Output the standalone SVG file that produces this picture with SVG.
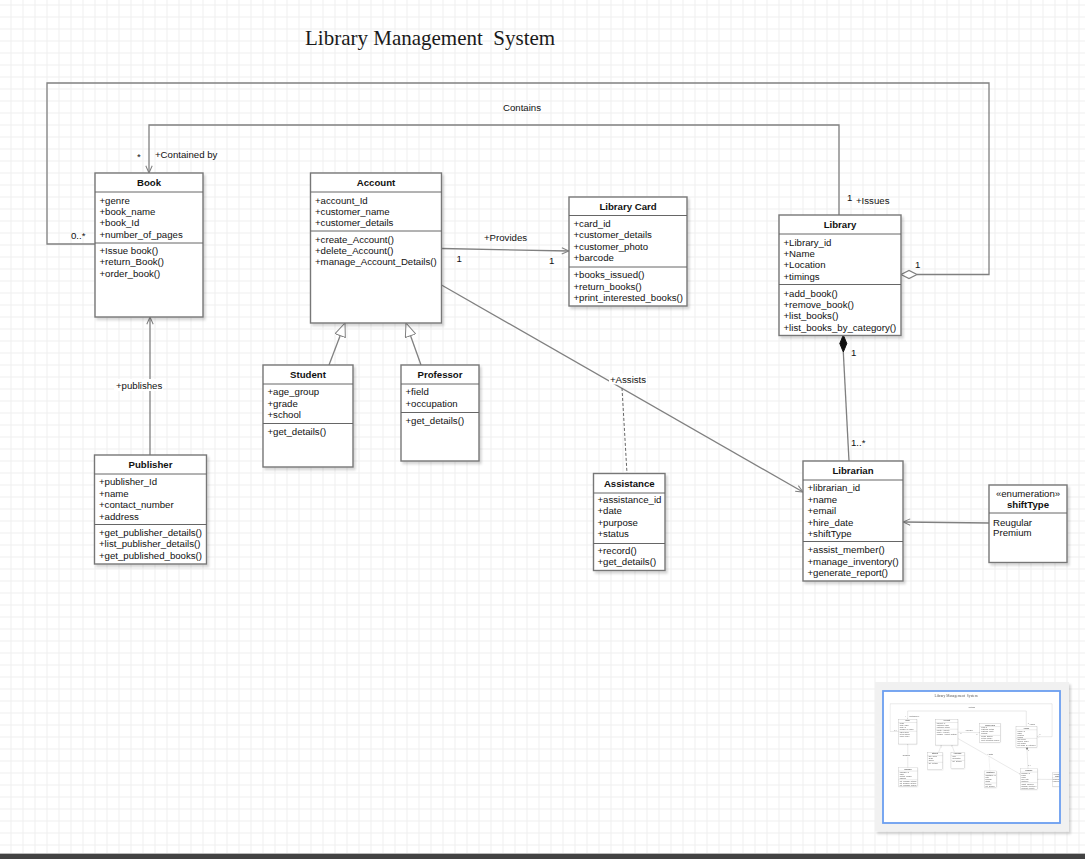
<svg xmlns="http://www.w3.org/2000/svg" xmlns:xlink="http://www.w3.org/1999/xlink" width="1085" height="859" viewBox="0 0 1085 859">
<defs>
<style>
.bg{fill:#ffffff}
.frame{fill:#ffffff;stroke:#777777;stroke-width:1.4}
.div{stroke:#666666;stroke-width:1}
.t{font-family:"Liberation Sans",Arial,sans-serif;font-size:9.65px;fill:#111111}
.h{font-family:"Liberation Sans",Arial,sans-serif;font-size:9.65px;font-weight:bold;fill:#111111;text-anchor:middle}
.lbl{font-family:"Liberation Sans",Arial,sans-serif;font-size:9.65px;fill:#111111}
.title{font-family:"Liberation Serif","Times New Roman",serif;font-size:21px;fill:#1a1a1a;white-space:pre}
.c{fill:none;stroke:#808080;stroke-width:1.3}
.dash{fill:none;stroke:#666666;stroke-width:1;stroke-dasharray:3 2}
</style>
<pattern id="grid" patternUnits="userSpaceOnUse" x="10.5" y="4.5" width="12" height="12">
<path d="M0.5 0 V12 M0 0.5 H12" stroke="#efefef" stroke-width="1" fill="none"/>
</pattern>
<filter id="sh" x="-10%" y="-10%" width="130%" height="130%">
<feDropShadow dx="2" dy="2.5" stdDeviation="1.2" flood-color="#000000" flood-opacity="0.16"/>
</filter>
<marker id="open" viewBox="0 0 10 10" refX="10" refY="5" markerWidth="8" markerHeight="8" markerUnits="userSpaceOnUse" orient="auto">
<path d="M1 1 L10 5 L1 9" fill="none" stroke="#808080" stroke-width="1.3"/>
</marker>
<marker id="tri" viewBox="0 0 14 12" refX="14" refY="6" markerWidth="14" markerHeight="12" markerUnits="userSpaceOnUse" orient="auto">
<path d="M0.5 0.5 L14 6 L0.5 11.5 Z" fill="#ffffff" stroke="#808080" stroke-width="1"/>
</marker>
<clipPath id="mini">
<rect x="883" y="691" width="177" height="132"/>
</clipPath>
</defs>

<rect class="bg" x="0" y="0" width="1085" height="859"/>
<rect x="0" y="0" width="1085" height="859" fill="url(#grid)"/>

<g id="content">
<text class="title" x="305" y="45">Library Management  System</text>

<g id="connectors">
<!-- Contains (aggregation Library -> Book) -->
<path class="c" d="M917 274.5 H989 V83 H47 V244 H95"/>
<polygon points="901,274.5 909,270.5 917,274.5 909,278.5" fill="#ffffff" stroke="#808080" stroke-width="1.2"/>
<text class="lbl" x="522" y="110.5" text-anchor="middle">Contains</text>
<text class="lbl" x="71" y="238.5">0..*</text>
<text class="lbl" x="915" y="267.5">1</text>
<!-- Issues / Contained by -->
<path class="c" d="M839 215 V125 H149 V173" marker-end="url(#open)"/>
<text class="lbl" x="137" y="160">*</text>
<text class="lbl" x="155" y="157.5">+Contained by</text>
<text class="lbl" x="847" y="201">1</text>
<text class="lbl" x="856" y="204">+Issues</text>
<!-- Provides -->
<path class="c" d="M441.5 248.5 L569 251" marker-end="url(#open)"/>
<text class="lbl" x="484" y="241">+Provides</text>
<text class="lbl" x="456.5" y="261.5">1</text>
<text class="lbl" x="549" y="263.5">1</text>
<!-- Assists -->
<path class="c" d="M441.5 285 L803 492" marker-end="url(#open)"/>
<path class="dash" d="M622 388 L627 473.5"/>
<rect x="609" y="373.5" width="38" height="11" fill="#ffffff"/>
<text class="lbl" x="610" y="382.5">+Assists</text>
<!-- Generalizations -->
<path class="c" d="M329 365 L345 323" marker-end="url(#tri)"/>
<path class="c" d="M421 365 L406 323" marker-end="url(#tri)"/>
<!-- publishes -->
<path class="c" d="M150 455 V317" marker-end="url(#open)"/>
<rect x="114" y="379" width="49" height="12" fill="#ffffff"/>
<text class="lbl" x="116" y="388.5">+publishes</text>
<!-- Composition Library -> Librarian -->
<path class="c" d="M843.3 352 L849 461"/>
<polygon points="843.3,335 846.8,343.5 843.3,352 839.8,343.5" fill="#111111" stroke="#111111" stroke-width="1"/>
<text class="lbl" x="851" y="356">1</text>
<text class="lbl" x="851" y="446">1..*</text>
<!-- shiftType -> Librarian -->
<path class="c" d="M989 523 L903 522" marker-end="url(#open)"/>
</g>

<g id="Book">
<rect class="frame" x="95" y="173" width="108" height="144" filter="url(#sh)"/>
<line class="div" x1="95" y1="192" x2="203" y2="192"/>
<line class="div" x1="95" y1="243" x2="203" y2="243"/>
<text class="h" x="149" y="185.8">Book</text>
<text class="t" x="99.5" y="203.5">+genre</text>
<text class="t" x="99.5" y="214.9">+book_name</text>
<text class="t" x="99.5" y="226.3">+book_Id</text>
<text class="t" x="99.5" y="237.7">+number_of_pages</text>
<text class="t" x="99.5" y="253.5">+Issue book()</text>
<text class="t" x="99.5" y="264.9">+return_Book()</text>
<text class="t" x="99.5" y="276.6">+order_book()</text>
</g>

<g id="Account">
<rect class="frame" x="310.5" y="173" width="131" height="150" filter="url(#sh)"/>
<line class="div" x1="310.5" y1="192" x2="441.5" y2="192"/>
<line class="div" x1="310.5" y1="231" x2="441.5" y2="231"/>
<text class="h" x="376" y="185.8">Account</text>
<text class="t" x="315" y="203.5">+account_Id</text>
<text class="t" x="315" y="214.9">+customer_name</text>
<text class="t" x="315" y="226.3">+customer_details</text>
<text class="t" x="315" y="242.5">+create_Account()</text>
<text class="t" x="315" y="253.9">+delete_Account()</text>
<text class="t" x="315" y="265.3">+manage_Account_Details()</text>
</g>

<g id="LibraryCard">
<rect class="frame" x="569" y="197" width="118" height="109" filter="url(#sh)"/>
<line class="div" x1="569" y1="215.5" x2="687" y2="215.5"/>
<line class="div" x1="569" y1="267" x2="687" y2="267"/>
<text class="h" x="628" y="209.6">Library Card</text>
<text class="t" x="573.5" y="226.8">+card_id</text>
<text class="t" x="573.5" y="238.2">+customer_details</text>
<text class="t" x="573.5" y="249.6">+customer_photo</text>
<text class="t" x="573.5" y="261">+barcode</text>
<text class="t" x="573.5" y="278.2">+books_issued()</text>
<text class="t" x="573.5" y="289.6">+return_books()</text>
<text class="t" x="573.5" y="301">+print_interested_books()</text>
</g>

<g id="Library">
<rect class="frame" x="779" y="215" width="122" height="120.5" filter="url(#sh)"/>
<line class="div" x1="779" y1="234" x2="901" y2="234"/>
<line class="div" x1="779" y1="284.5" x2="901" y2="284.5"/>
<text class="h" x="840" y="227.9">Library</text>
<text class="t" x="783.5" y="245.5">+Library_id</text>
<text class="t" x="783.5" y="256.9">+Name</text>
<text class="t" x="783.5" y="268.3">+Location</text>
<text class="t" x="783.5" y="279.7">+timings</text>
<text class="t" x="783.5" y="296.5">+add_book()</text>
<text class="t" x="783.5" y="307.9">+remove_book()</text>
<text class="t" x="783.5" y="319.3">+list_books()</text>
<text class="t" x="783.5" y="330.7">+list_books_by_category()</text>
</g>

<g id="Student">
<rect class="frame" x="263" y="365" width="90" height="102" filter="url(#sh)"/>
<line class="div" x1="263" y1="384" x2="353" y2="384"/>
<line class="div" x1="263" y1="423.5" x2="353" y2="423.5"/>
<text class="h" x="308" y="377.9">Student</text>
<text class="t" x="267.5" y="395.3">+age_group</text>
<text class="t" x="267.5" y="406.7">+grade</text>
<text class="t" x="267.5" y="418.1">+school</text>
<text class="t" x="267.5" y="435.3">+get_details()</text>
</g>

<g id="Professor">
<rect class="frame" x="401" y="365" width="78" height="96" filter="url(#sh)"/>
<line class="div" x1="401" y1="384" x2="479" y2="384"/>
<line class="div" x1="401" y1="412.5" x2="479" y2="412.5"/>
<text class="h" x="440" y="377.9">Professor</text>
<text class="t" x="405.5" y="395.3">+field</text>
<text class="t" x="405.5" y="406.7">+occupation</text>
<text class="t" x="405.5" y="423.8">+get_details()</text>
</g>

<g id="Assistance">
<rect class="frame" x="593.5" y="473.5" width="71.5" height="97" filter="url(#sh)"/>
<line class="div" x1="593.5" y1="493" x2="665" y2="493"/>
<line class="div" x1="593.5" y1="543.5" x2="665" y2="543.5"/>
<text class="h" x="629.3" y="486.6">Assistance</text>
<text class="t" x="597.5" y="502.8">+assistance_id</text>
<text class="t" x="597.5" y="514.2">+date</text>
<text class="t" x="597.5" y="525.6">+purpose</text>
<text class="t" x="597.5" y="537">+status</text>
<text class="t" x="597.5" y="553.6">+record()</text>
<text class="t" x="597.5" y="565">+get_details()</text>
</g>

<g id="Librarian">
<rect class="frame" x="803" y="461" width="100" height="120" filter="url(#sh)"/>
<line class="div" x1="803" y1="480" x2="903" y2="480"/>
<line class="div" x1="803" y1="541.5" x2="903" y2="541.5"/>
<text class="h" x="853" y="473.9">Librarian</text>
<text class="t" x="807.5" y="491.3">+librarian_id</text>
<text class="t" x="807.5" y="502.7">+name</text>
<text class="t" x="807.5" y="514.1">+email</text>
<text class="t" x="807.5" y="525.5">+hire_date</text>
<text class="t" x="807.5" y="536.9">+shiftType</text>
<text class="t" x="807.5" y="553.3">+assist_member()</text>
<text class="t" x="807.5" y="564.7">+manage_inventory()</text>
<text class="t" x="807.5" y="576.1">+generate_report()</text>
</g>

<g id="shiftType">
<rect class="frame" x="989" y="485" width="78" height="77.5" filter="url(#sh)"/>
<line class="div" x1="989" y1="513" x2="1067" y2="513"/>
<text class="t" x="1028" y="496.6" text-anchor="middle">«enumeration»</text>
<text class="h" x="1028" y="508.4">shiftType</text>
<text class="t" x="993" y="525.5">Reugular</text>
<text class="t" x="993" y="536">Premium</text>
</g>

<g id="Publisher">
<rect class="frame" x="94.5" y="455" width="112" height="109" filter="url(#sh)"/>
<line class="div" x1="94.5" y1="474" x2="206.5" y2="474"/>
<line class="div" x1="94.5" y1="524.5" x2="206.5" y2="524.5"/>
<text class="h" x="150.5" y="467.9">Publisher</text>
<text class="t" x="99" y="485.3">+publisher_Id</text>
<text class="t" x="99" y="496.7">+name</text>
<text class="t" x="99" y="508.1">+contact_number</text>
<text class="t" x="99" y="519.5">+address</text>
<text class="t" x="99" y="536">+get_publisher_details()</text>
<text class="t" x="99" y="547.4">+list_publisher_details()</text>
<text class="t" x="99" y="558.8">+get_published_books()</text>
</g>
</g>

<g id="minimap">
<rect x="875" y="682" width="194" height="149.5" fill="#f1f1f1" filter="url(#sh)"/>
<rect x="883" y="691" width="177" height="132" fill="#ffffff"/>
<g clip-path="url(#mini)" opacity="0.75">
<use href="#content" xlink:href="#content" transform="translate(882 689.5) scale(0.172)"/>
</g>
<rect x="883" y="691" width="177" height="132" fill="none" stroke="#6b9ef0" stroke-width="1.8"/>
</g>

<rect x="0" y="853" width="1085" height="1" fill="#bbbbbb"/>
<rect x="0" y="854" width="1085" height="5" fill="#424242"/>
</svg>
